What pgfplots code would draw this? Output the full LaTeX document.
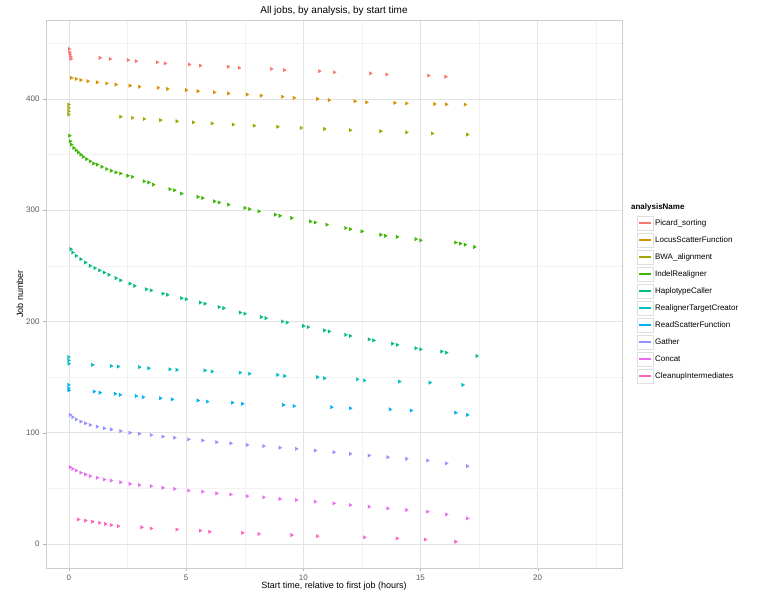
\documentclass[border=0pt]{standalone}
\usepackage{pgfplots}
\pgfplotsset{compat=1.18}
\usepackage{fontspec}
\setmainfont{Liberation Sans}
\definecolor{c1}{HTML}{F8766D}\definecolor{c2}{HTML}{D89000}\definecolor{c3}{HTML}{A3A500}
\definecolor{c4}{HTML}{39B600}\definecolor{c5}{HTML}{00BF7D}\definecolor{c6}{HTML}{00BFC4}
\definecolor{c7}{HTML}{00B0F6}\definecolor{c8}{HTML}{9590FF}\definecolor{c9}{HTML}{E76BF3}
\definecolor{c10}{HTML}{FF62BC}
\begin{document}
\begin{tikzpicture}[x=1pt,y=1pt]
\path[use as bounding box] (-46,-35) rectangle (733,568);
\begin{axis}[at={(0,0)}, anchor=south west, scale only axis, width=576pt, height=548pt,
 xmin=-0.98, xmax=23.6, ymin=-21.6, ymax=471,
 xtick={0,5,10,15,20}, ytick={0,100,200,300,400},
 minor xtick={2.5,7.5,12.5,17.5,22.5}, minor ytick={50,150,250,350,450}, minor tick length=0pt,
 grid=both, major grid style={gray!22, line width=0.6pt}, minor grid style={gray!10, line width=0.4pt},
 axis line style={gray!40}, tick style={gray!60}, tick align=outside, major tick length=3pt,
 xtick pos=bottom, ytick pos=left,
 ticklabel style={font=\footnotesize, text=gray!70!black}, /pgf/number format/assume math mode=true,
 title={All jobs, by analysis, by start time}, title style={font=\normalsize, yshift=-5pt},
 xlabel={Start time, relative to first job (hours)}, ylabel={Job number},
 label style={font=\small}, xlabel style={yshift=5pt}, ylabel style={yshift=-4pt},
 legend style={at={(1.02,0.672)}, anchor=north west, draw=none, font=\footnotesize, row sep=2.6pt,
   cells={anchor=west}},
 legend image code/.code={\draw[draw=gray!25, fill=white, line width=0.4pt] (0pt,-7pt) rectangle (16pt,7pt);
   \draw[#1, line width=1.4pt] (2pt,0pt) -- (14pt,0pt);},
 only marks, every axis plot/.append style={mark=triangle*, mark size=1.9pt, mark options={rotate=-90}},
 clip=false]
\addlegendimage{empty legend}\addlegendentry{\hspace{-24pt}\textbf{analysisName}}
\addlegendimage{c1}\addlegendentry{Picard\_sorting}
\addlegendimage{c2}\addlegendentry{LocusScatterFunction}
\addlegendimage{c3}\addlegendentry{BWA\_alignment}
\addlegendimage{c4}\addlegendentry{IndelRealigner}
\addlegendimage{c5}\addlegendentry{HaplotypeCaller}
\addlegendimage{c6}\addlegendentry{RealignerTargetCreator}
\addlegendimage{c7}\addlegendentry{ReadScatterFunction}
\addlegendimage{c8}\addlegendentry{Gather}
\addlegendimage{c9}\addlegendentry{Concat}
\addlegendimage{c10}\addlegendentry{CleanupIntermediates}
\addplot[c1, forget plot] coordinates {(0,445)(0.02,442)(0.04,440)(0.06,438)(0.08,436)(1.32,437)(1.75,436)(2.52,435)(2.86,434)(3.76,433)(4.10,432)(5.13,431)(5.60,430)(6.79,429)(7.26,428)(8.63,427)(9.19,426)(10.68,425)(11.32,424)(12.86,423)(13.55,422)(15.34,421)(16.07,420)};
\addplot[c2, forget plot] coordinates {(0.1,419)(0.3,418)(0.5,417)(0.8,416)(1.2,415)(1.6,414)(2.0,413)(2.6,412)(3.0,411)(3.8,410)(4.2,409)(5.0,408)(5.5,407)(6.2,406)(6.8,405)(7.6,404)(8.2,403)(9.1,402)(9.6,401)(10.6,400)(11.1,399)(12.2,398)(12.7,397)(13.9,396.5)(14.4,396)(15.6,395.5)(16.1,395.2)(16.9,395)};
\addplot[c3, forget plot] coordinates {(-0.02,395)(-0.02,392)(-0.02,389)(-0.02,386)(2.2,384)(2.7,383)(3.2,382)(3.9,381)(4.6,380)(5.3,379)(6.1,378)(7.0,377)(7.9,376)(8.9,375)(9.9,374)(10.9,373)(12.0,372)(13.3,371)(14.4,370)(15.5,369)(17.0,368)};
\addplot[c4, forget plot] coordinates {(0.02,367)(0.05,362)(0.1,359)(0.2,356)(0.3,354)(0.4,352)(0.5,350)(0.6,348)(0.75,346)(0.9,344)(1.05,342)(1.2,341)(1.4,339)(1.6,337)(1.8,335.5)(2.0,334)(2.2,333)(2.5,331)(2.7,330)(3.2,326)(3.4,325)(3.6,323)(4.3,319)(4.5,318)(4.8,315)(5.5,312)(5.7,311)(6.2,308)(6.4,307)(6.8,305)(7.5,302)(7.7,301)(8.1,299)(8.8,296)(9.0,295)(9.5,293)(10.3,290)(10.5,289)(11.0,287)(11.8,284)(12.0,283)(12.5,281)(13.3,278)(13.5,277)(14.0,276)(14.8,274)(15.0,273)(16.5,271)(16.7,270)(16.9,269)(17.3,267)};
\addplot[c5, forget plot] coordinates {(0.08,265)(0.15,262)(0.3,259)(0.5,256)(0.7,253)(0.9,250)(1.1,248)(1.3,246)(1.5,244)(1.7,242)(2.0,239)(2.2,237)(2.6,234)(2.8,232)(3.3,229)(3.5,228)(4.0,225)(4.2,224)(4.8,221)(5.0,220)(5.6,217)(5.8,216)(6.4,213)(6.6,212)(7.3,208)(7.5,207)(8.2,204)(8.4,203)(9.1,200)(9.3,199)(10.0,196)(10.2,195)(10.9,192)(11.1,191)(11.8,188)(12.0,187)(12.8,184)(13.0,183)(13.8,180)(14.0,179)(14.8,176)(15.0,175)(15.9,173)(16.1,172)(17.4,169)};
\addplot[c6, forget plot] coordinates {(-0.02,168)(-0.02,165)(-0.01,162)(1.0,161)(1.8,160)(2.1,159.5)(3.0,159)(3.4,158)(4.3,157)(4.6,156.5)(5.8,156)(6.1,155)(7.3,154)(7.7,153)(8.9,152)(9.2,151)(10.6,150)(10.9,149)(12.3,148)(12.6,147)(14.1,146)(15.4,145)(16.8,143)};
\addplot[c7, forget plot] coordinates {(-0.02,143)(-0.02,140)(-0.01,138)(1.07,137)(1.32,136)(1.97,135)(2.18,134)(2.86,133)(3.16,132)(3.9,131)(4.4,130)(5.5,129)(5.9,128)(6.97,127)(7.4,126)(9.15,125)(9.6,124)(11.2,123)(12.0,122)(13.7,121)(14.6,120)(16.5,118)(17.0,116)};
\addplot[c8, forget plot] coordinates {(0.05,116)(0.15,114)(0.3,112)(0.5,110)(0.7,108.5)(0.9,107)(1.2,105.5)(1.5,104)(1.8,103)(2.2,101.5)(2.6,100)(3.0,99)(3.5,98)(4.0,96.5)(4.5,95.5)(5.1,94)(5.7,93)(6.3,91.5)(6.9,90.5)(7.6,89)(8.3,88)(9.0,86.5)(9.7,85.5)(10.5,84)(11.3,82.5)(12.0,81)(12.8,79.5)(13.6,78)(14.4,76.5)(15.3,75)(16.1,72.5)(17.0,70)};
\addplot[c9, forget plot] coordinates {(0.05,69)(0.15,67.5)(0.3,66)(0.5,64)(0.7,62.5)(0.9,61)(1.2,59.5)(1.5,58)(1.8,57)(2.2,55.5)(2.6,54)(3.0,53)(3.5,52)(4.0,50.5)(4.5,49.5)(5.1,48)(5.7,47)(6.3,45.5)(6.9,44.5)(7.6,43)(8.3,42)(9.0,40.5)(9.7,39.5)(10.5,38)(11.3,36.5)(12.0,35)(12.8,33.5)(13.6,32)(14.4,30.5)(15.3,29)(16.1,26.5)(17.0,23)};
\addplot[c10, forget plot] coordinates {(0.4,22)(0.7,21)(1.0,20)(1.3,19)(1.55,18)(1.8,17)(2.1,16)(3.1,15)(3.5,14)(4.6,13)(5.6,12)(6.0,11)(7.4,10)(8.1,9)(9.5,8)(10.6,7)(12.6,6)(14.0,5)(15.2,4)(16.5,2)};
\end{axis}
\end{tikzpicture}
\end{document}
